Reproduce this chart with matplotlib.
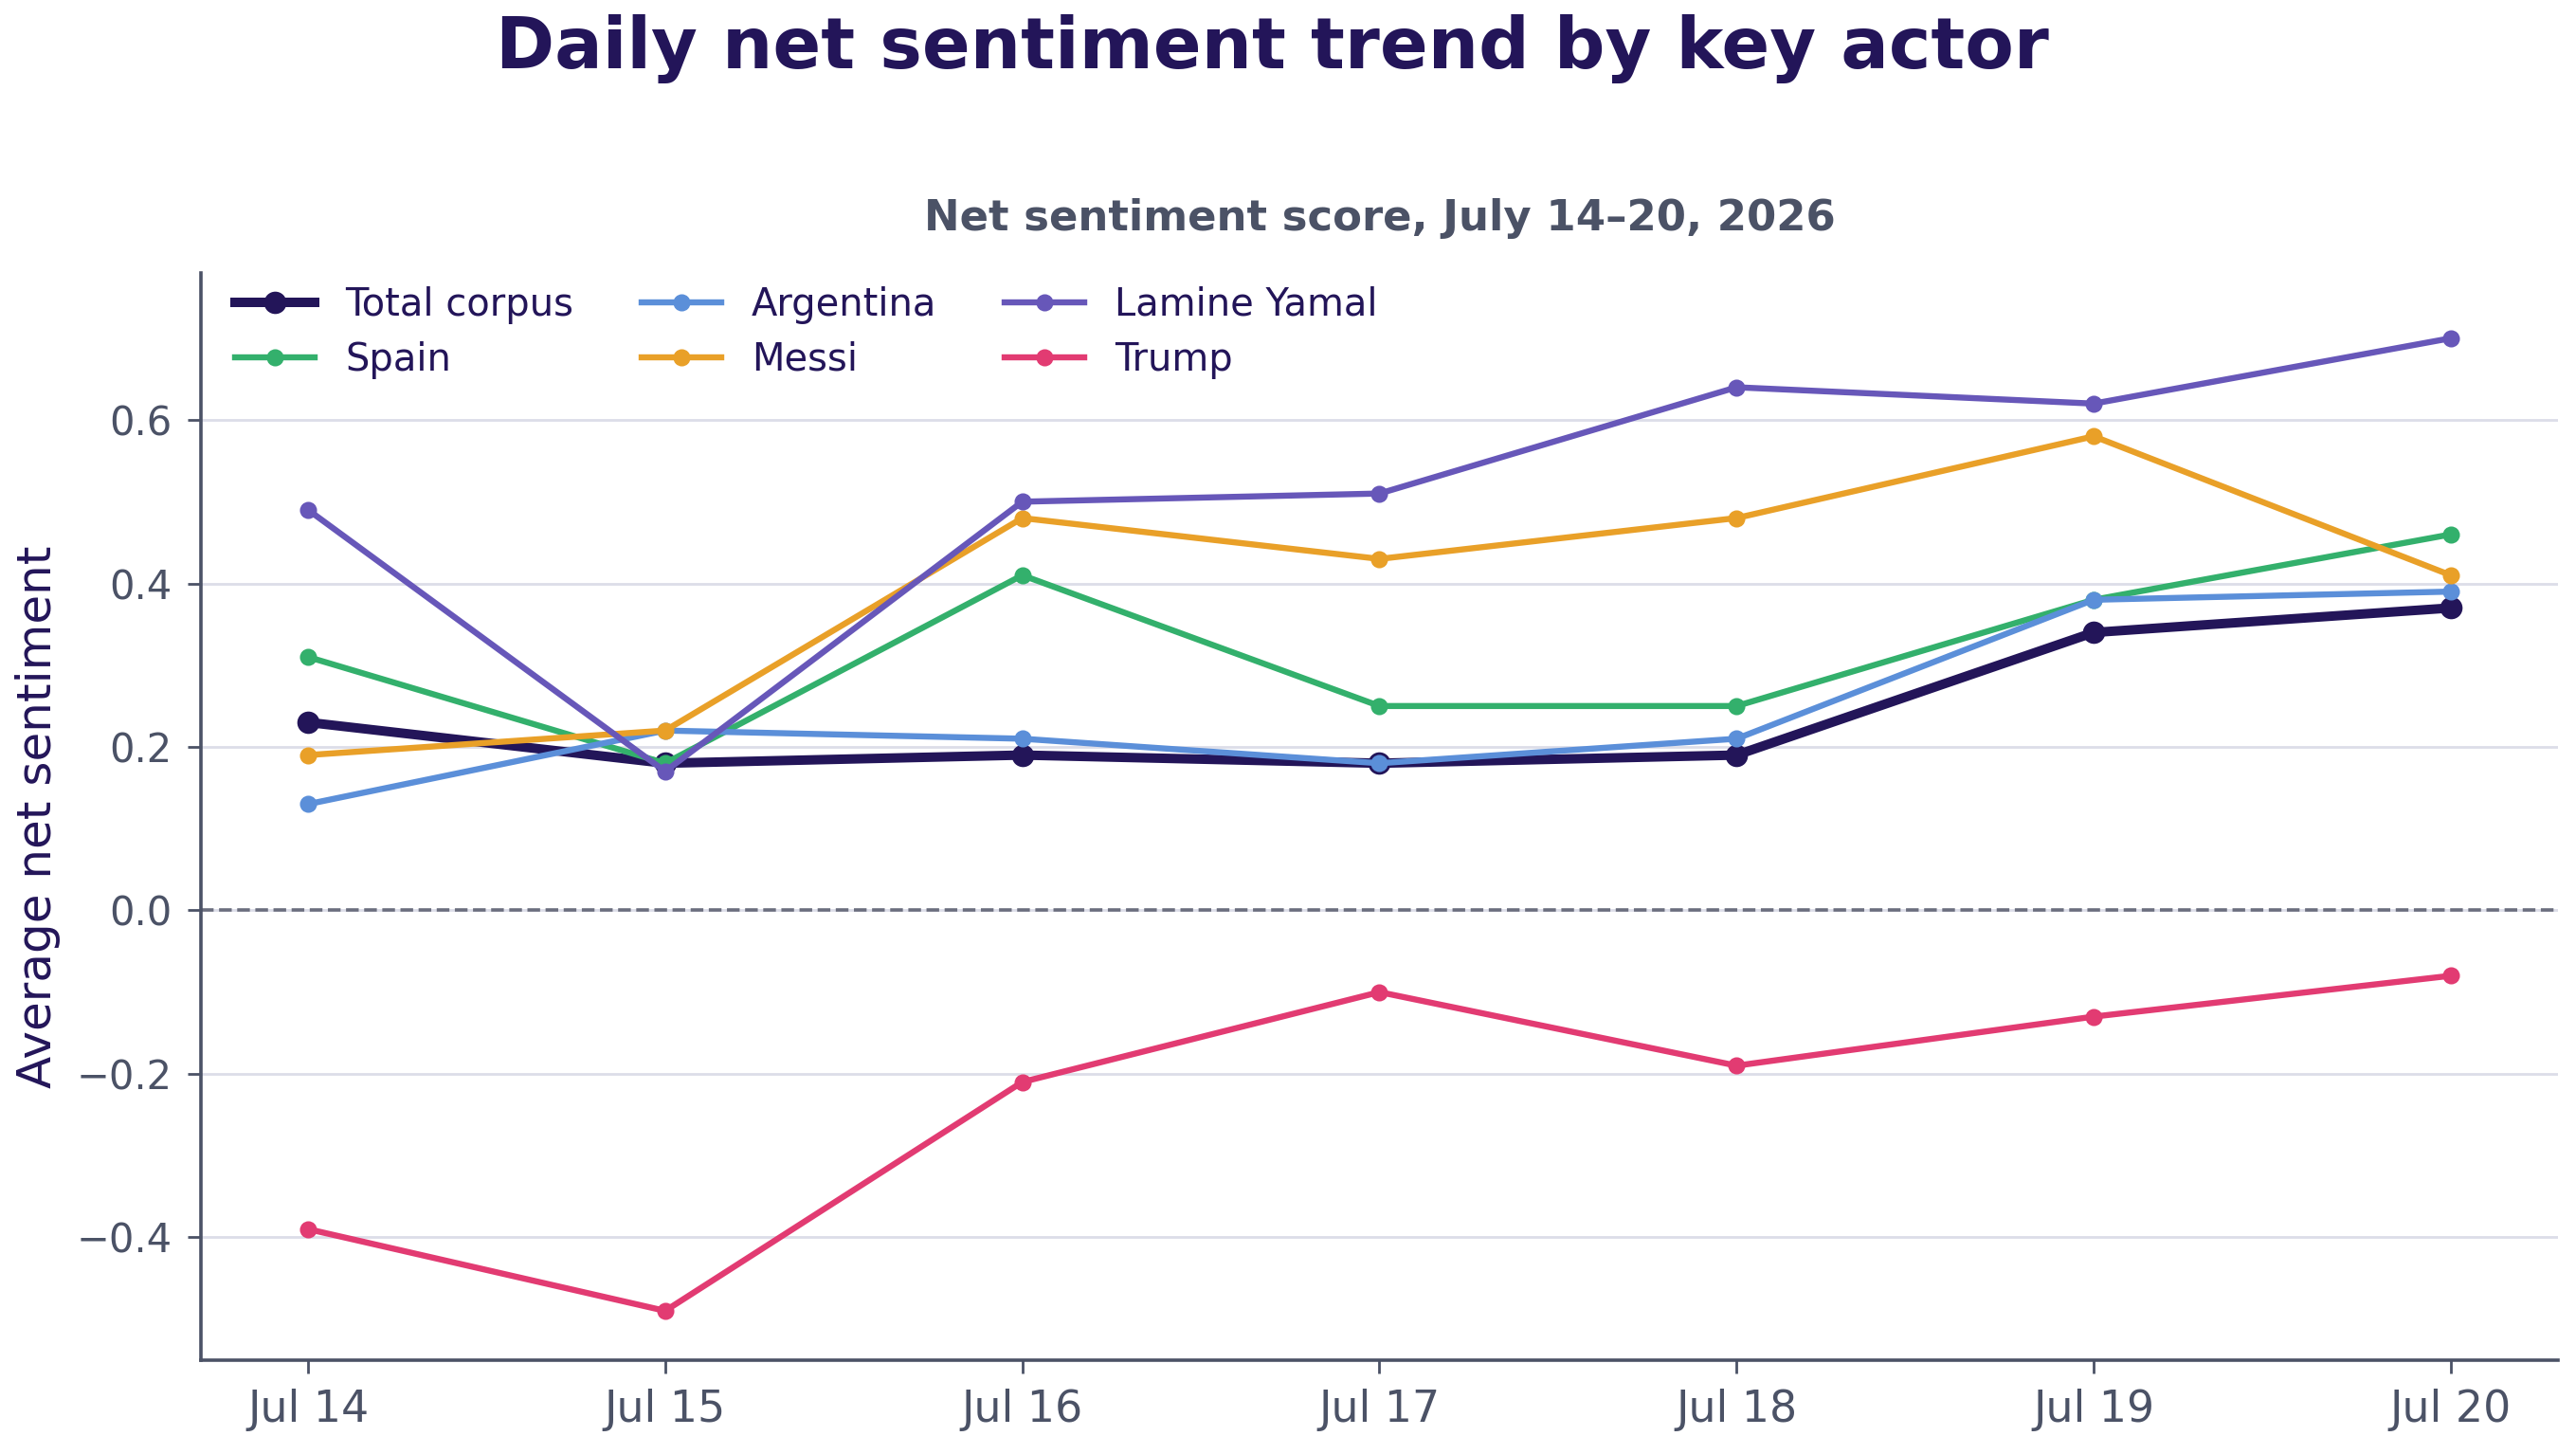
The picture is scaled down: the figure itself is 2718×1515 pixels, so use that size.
import matplotlib
matplotlib.use("Agg")
import matplotlib.pyplot as plt

days = ["Jul 14", "Jul 15", "Jul 16", "Jul 17", "Jul 18", "Jul 19", "Jul 20"]

total_corpus = [0.23, 0.18, 0.19, 0.18, 0.19, 0.34, 0.37]
spain = [0.31, 0.18, 0.41, 0.25, 0.25, 0.38, 0.46]
argentina = [0.13, 0.22, 0.21, 0.18, 0.21, 0.38, 0.39]
messi = [0.19, 0.22, 0.48, 0.43, 0.48, 0.58, 0.41]
lamine_yamal = [0.49, 0.17, 0.50, 0.51, 0.64, 0.62, 0.70]
trump = [-0.39, -0.49, -0.21, -0.10, -0.19, -0.13, -0.08]

NAVY = "#231559"
GREY = "#4b5266"


def main():
    fig = plt.figure(figsize=(13.59, 7.575), dpi=200)
    ax = fig.add_axes([0.078, 0.053, 0.915, 0.757])

    x = range(len(days))

    ax.plot(x, total_corpus, color=NAVY, lw=3.6, marker="o", ms=7.5, label="Total corpus", zorder=3)
    ax.plot(x, spain, color="#33b06c", lw=2.3, marker="o", ms=5.5, label="Spain", zorder=3)
    ax.plot(x, argentina, color="#5b8fd9", lw=2.3, marker="o", ms=5.5, label="Argentina", zorder=3)
    ax.plot(x, messi, color="#e9a028", lw=2.3, marker="o", ms=5.5, label="Messi", zorder=3)
    ax.plot(x, lamine_yamal, color="#6757b9", lw=2.3, marker="o", ms=5.5, label="Lamine Yamal", zorder=3)
    ax.plot(x, trump, color="#e23b72", lw=2.3, marker="o", ms=5.5, label="Trump", zorder=3)

    ax.axhline(0, color="#6b6e7e", lw=1.3, ls="--", zorder=2)

    ax.set_xlim(-0.3, 6.3)
    ax.set_ylim(-0.55, 0.78)
    ax.set_xticks(list(x))
    ax.set_xticklabels(days)
    ax.set_yticks([-0.4, -0.2, 0.0, 0.2, 0.4, 0.6])
    ax.set_yticklabels(["\u22120.4", "\u22120.2", "0.0", "0.2", "0.4", "0.6"])

    ax.grid(axis="y", color="#dcdde8", lw=1.0, zorder=0)
    ax.set_axisbelow(True)
    for side in ["top", "right"]:
        ax.spines[side].set_visible(False)
    for side in ["left", "bottom"]:
        ax.spines[side].set_color(GREY)
        ax.spines[side].set_linewidth(1.3)
    ax.tick_params(colors=GREY, length=5, width=1.0, pad=6)
    ax.tick_params(axis="x", labelsize=16.5)
    ax.tick_params(axis="y", labelsize=15)

    ax.set_ylabel("Average net sentiment", fontsize=18, color=NAVY, labelpad=6)
    ax.set_title("Net sentiment score, July 14\u201320, 2026", fontsize=16.2, fontweight="bold",
                 color=GREY, pad=16)
    fig.suptitle("Daily net sentiment trend by key actor", fontsize=27, fontweight="bold",
                 color=NAVY, x=0.494, y=0.99)

    ax.legend(loc="upper left", bbox_to_anchor=(0.0145, 0.988), ncol=3, frameon=False,
              fontsize=14.4, labelcolor=NAVY, handlelength=2.1, columnspacing=1.8,
              borderaxespad=0, borderpad=0, handletextpad=0.8, labelspacing=0.45)

    fig.savefig("out.png", dpi=200)


if __name__ == "__main__":
    main()
